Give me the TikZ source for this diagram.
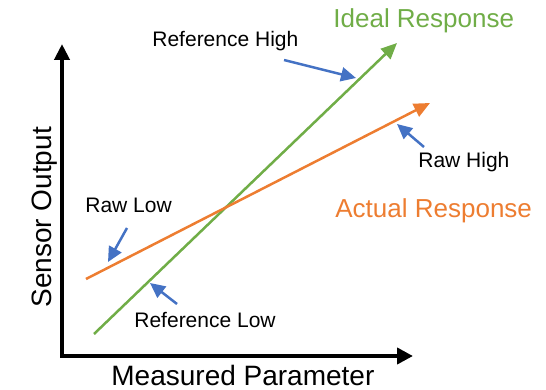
\documentclass[tikz,border=0pt]{standalone}
\usepackage{fontspec}
\setmainfont{Liberation Sans}
\usepackage{tikz}
\usetikzlibrary{arrows.meta, positioning}
\definecolor{idealgreen}{HTML}{70AD47}
\definecolor{actualorange}{HTML}{ED7D31}
\definecolor{pointerblue}{HTML}{4472C4}

\tikzset{
  axisline/.style={line width=4pt, {Triangle[length=16pt,width=15pt]}-{Triangle[length=16pt,width=16pt]}},
  response/.style={line width=2.5pt, -{Triangle[length=16pt,width=14pt]}},
  pointer/.style={pointerblue, line width=2.5pt, -{Triangle[length=15pt,width=14pt]}},
  smalllabel/.style={font=\fontsize{21}{24}\selectfont, anchor=base west, inner sep=0pt},
  titlelabel/.style={font=\fontsize{26}{30}\selectfont, anchor=base west, inner sep=0pt},
  axislabel/.style={font=\fontsize{28}{32}\selectfont, anchor=base west, inner sep=0pt}
}

\begin{document}
\begin{tikzpicture}[x=1pt, y=-1pt, >=Stealth, thick]
  \useasboundingbox (0,0) rectangle (546,390);

  % Osy
  \coordinate (ytop) at (62,44);
  \coordinate (origin) at (62,356);
  \coordinate (xend) at (413,356);
  \draw[axisline] (ytop) -- (origin) -- (xend);
  \node[axislabel, rotate=90] (ylab) at (51,308) {Sensor Output};
  \node[axislabel] (xlab) at (111,385) {Measured Parameter};

  % Ideal a actual response
  \coordinate (idealstart) at (94,334);
  \coordinate (idealend) at (397,43);
  \coordinate (actualstart) at (86,279);
  \coordinate (actualend) at (430,103);
  \draw[response, idealgreen] (idealstart) -- (idealend);
  \draw[response, actualorange] (actualstart) -- (actualend);
  \node[titlelabel, idealgreen] (ideal) at (333,28) {Ideal Response};
  \node[titlelabel, actualorange] (actual) at (335,218) {Actual Response};

  % Popisky bodů
  \node[smalllabel] (refhigh) at (152,47) {Reference High};
  \node[smalllabel] (rawhigh) at (418,168) {Raw High};
  \node[smalllabel] (rawlow) at (85,212) {Raw Low};
  \node[smalllabel] (reflow) at (134,327) {Reference Low};

  % Šipky
  \coordinate (refhighfrom) at (284,60);
  \coordinate (refhighto) at (356,78);
  \coordinate (rawhighfrom) at (424,147);
  \coordinate (rawhighto) at (397,124);
  \coordinate (rawlowfrom) at (127,228);
  \coordinate (rawlowto) at (108,262);
  \coordinate (reflowfrom) at (177,304);
  \coordinate (reflowto) at (150,283);
  \draw[pointer] (refhighfrom) -- (refhighto);
  \draw[pointer] (rawhighfrom) -- (rawhighto);
  \draw[pointer] (rawlowfrom) -- (rawlowto);
  \draw[pointer] (reflowfrom) -- (reflowto);
\end{tikzpicture}
\end{document}
